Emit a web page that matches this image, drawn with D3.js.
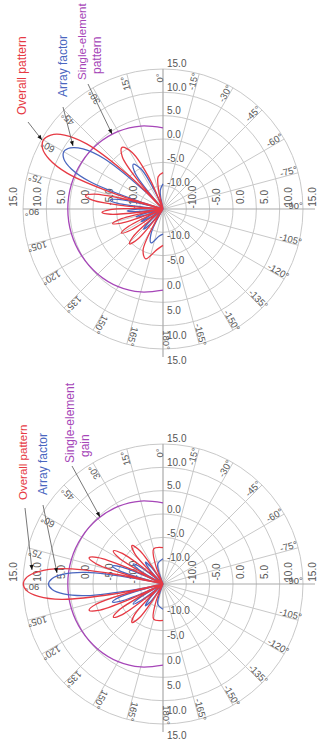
<!DOCTYPE html>
<html><head><meta charset="utf-8">
<script src="https://cdn.jsdelivr.net/npm/d3@7"></script>
<style>html,body{margin:0;padding:0;background:#fff;} svg{display:block;}</style>
</head><body>
<svg id="chart" width="321" height="749"></svg>
<script>
// ---------- data ----------
const ringValues = [-10, -5, 0, 5, 10, 15];
const radialDomain = [-15, 15];
const angleTicks = [0,15,30,45,60,75,90,105,120,135,150,165,180,-15,-30,-45,-60,-75,-90,-105,-120,-135,-150,-165];

// [angle in degrees, gain in dB]  (angle counter-clockwise from the top on screen)
const topOverall = [[0,-7.2],[8.5,-8.0],[13.8,-11.6],[19.2,-40],
 [23.5,-8.3],[28.6,-1.2],[33.6,0.85],[37.9,-0.8],[41.5,-7.55],[43.8,-40],
 [45.6,-5.0],[49.5,6.5],[53.1,11.4],[56.6,13.8],[60,14.6],[63.3,13.9],[66.4,11.6],[69.5,6.95],[72.5,-4.25],[73.9,-40],
 [75.5,-6.85],[77.8,0.05],[80.4,1.85],[83.0,0.05],[85.2,-6.8],[86.8,-40],
 [88.3,-10.6],[90.6,-3.7],[93.2,-1.9],[95.7,-3.7],[98.0,-10.6],[99.6,-40],
 [101.1,-12.4],[103.5,-5.5],[106.1,-3.75],[108.8,-5.6],[111.2,-12.55],[112.9,-40],
 [114.6,-13.2],[117.1,-6.4],[120,-4.7],[123,-6.55],[125.7,-13.55],[127.7,-40],
 [129.6,-13.1],[132.7,-6.3],[136.2,-4.65],[140.1,-6.6],[143.8,-13.7],[146.4,-40],
 [149.3,-11.8],[154.2,-5.2],[160.8,-3.7],[171.5,-6.2],[180,-7.2]];
const topArray = [[0,-9.6],[8.5,-11.0],[13.8,-14.9],[19.2,-40],
 [23.5,-12.2],[28.6,-5.3],[33.6,-3.5],[37.9,-5.3],[41.5,-12.2],[43.8,-40],
 [45.6,-9.6],[49.5,1.65],[53.1,6.43],[56.6,8.77],[60,9.54],[63.3,8.77],[66.4,6.43],[69.5,1.65],[72.5,-9.6],[73.9,-40],
 [75.5,-12.2],[77.8,-5.3],[80.4,-3.5],[83.0,-5.3],[85.2,-12.2],[86.8,-40],
 [88.3,-16.0],[90.6,-9.1],[93.2,-7.3],[95.7,-9.1],[98.0,-16.0],[99.6,-40],
 [101.1,-17.7],[103.5,-10.8],[106.1,-9.0],[108.8,-10.8],[111.2,-17.7],[112.9,-40],
 [114.6,-18.3],[117.1,-11.4],[120,-9.6],[123,-11.4],[125.7,-18.3],[127.7,-40],
 [129.6,-17.7],[132.7,-10.8],[136.2,-9.0],[140.1,-10.8],[143.8,-17.7],[146.4,-40],
 [149.3,-16.0],[154.2,-9.1],[160.8,-7.3],[171.5,-9.1],[180,-9.6]];
const topElement = [[0,2.4],[15,3.4],[30,4.2],[45,4.75],[60,5.1],[75,5.33],[90,5.4],[105,5.33],[120,5.1],[135,4.75],[150,4.2],[165,3.4],[180,2.4]];

const bottomOverall = [[0,-7.2],[14.8,-7.2],[21.1,-10.4],[24.4,-15.9],[27.3,-40],
 [30.5,-13.5],[34.7,-6.4],[38.9,-4.4],[42.9,-6.1],[46.1,-12.9],[48.2,-40],
 [50.2,-11.1],[53.1,-4.1],[56.2,-2.2],[59.3,-4.0],[61.9,-10.8],[63.6,-40],
 [65.4,-7.0],[67.8,0.0],[70.5,1.8],[73.2,0.0],[75.6,-6.9],[77.2,-40],
 [78.5,-4.25],[81.4,7.0],[84.3,11.8],[87.1,14.2],[90,14.94],[92.9,14.2],[95.7,11.8],[98.6,7.0],[101.5,-4.25],[102.8,-40],
 [104.4,-6.9],[106.8,0.0],[109.5,1.8],[112.2,0.0],[114.6,-7.0],[116.4,-40],
 [118.1,-10.8],[120.7,-4.0],[123.8,-2.2],[126.9,-4.1],[129.8,-11.1],[131.8,-40],
 [133.9,-12.9],[137.1,-6.1],[141.1,-4.4],[145.3,-6.4],[149.5,-13.5],[152.7,-40],
 [155.6,-15.9],[158.9,-10.4],[165.2,-7.2],[180,-7.2]];
const bottomArray = [[0,-9.6],[14.8,-10.6],[21.1,-14.2],[24.4,-19.8],[27.3,-40],
 [30.5,-17.7],[34.7,-10.8],[38.9,-9.0],[42.9,-10.8],[46.1,-17.7],[48.2,-40],
 [50.2,-16.0],[53.1,-9.1],[56.2,-7.3],[59.3,-9.1],[61.9,-16.0],[63.6,-40],
 [65.4,-12.2],[67.8,-5.3],[70.5,-3.5],[73.2,-5.3],[75.6,-12.2],[77.2,-40],
 [78.5,-9.6],[81.4,1.65],[84.3,6.43],[87.1,8.77],[90,9.54],[92.9,8.77],[95.7,6.43],[98.6,1.65],[101.5,-9.6],[102.8,-40],
 [104.4,-12.2],[106.8,-5.3],[109.5,-3.5],[112.2,-5.3],[114.6,-12.2],[116.4,-40],
 [118.1,-16.0],[120.7,-9.1],[123.8,-7.3],[126.9,-9.1],[129.8,-16.0],[131.8,-40],
 [133.9,-17.7],[137.1,-10.8],[141.1,-9.0],[145.3,-10.8],[149.5,-17.7],[152.7,-40],
 [155.6,-19.8],[158.9,-14.2],[165.2,-10.6],[180,-9.6]];
const bottomElement = [[0,2.4],[15,3.4],[30,4.2],[45,4.75],[60,5.1],[75,5.33],[90,5.4],[105,5.33],[120,5.1],[135,4.75],[150,4.2],[165,3.4],[180,2.4]];

const topLegend = [["Overall pattern"], ["Array factor"], ["Single-element", "pattern"]];
const bottomLegend = [["Overall pattern"], ["Array factor"], ["Single-element", "gain"]];

// ---------- drawing ----------
const svg = d3.select("#chart");
const R = 140;
const colors = {overall: "#e63a44", array: "#4a66bf", element: "#a646b8"};
const fmt = d3.formatLocale({decimal: ".", thousands: ",", grouping: [3], currency: ["", ""], minus: "-"}).format(".1f");
const font = "'Liberation Sans', Arial, sans-serif";

function drawChart(cx, cy, overall, array, element, legend, layout) {
  const g = svg.append("g").attr("transform", `translate(${cx},${cy})`);
  const r = d3.scaleLinear().domain(radialDomain).range([0, R]).clamp(true);
  const rad = d => d * Math.PI / 180;

  // rings
  g.selectAll("circle.ring").data(ringValues).join("circle")
    .attr("r", d => r(d)).attr("fill", "none").attr("stroke", "#c9c9c9").attr("stroke-width", 1);
  // spokes
  g.selectAll("line.spoke").data(angleTicks.filter(a => a % 90 !== 0)).join("line")
    .attr("x1", 0).attr("y1", 0)
    .attr("x2", a => -R * Math.sin(rad(a))).attr("y2", a => -R * Math.cos(rad(a)))
    .attr("stroke", "#c9c9c9").attr("stroke-width", 1);
  // axes
  g.append("line").attr("x1", -R).attr("x2", R + 12).attr("y1", 0).attr("y2", 0).attr("stroke", "#aaa").attr("stroke-width", 1.2);
  g.append("line").attr("x1", 0).attr("x2", 0).attr("y1", -R).attr("y2", R + 8).attr("stroke", "#aaa").attr("stroke-width", 1.2);

  // ring labels on vertical axis (horizontal text)
  const lab = g.append("g").attr("font-family", font).attr("font-size", 10).attr("fill", "#555");
  ringValues.forEach(v => {
    const rr = r(v);
    lab.append("text").attr("x", 4).attr("y", -(rr + 3 + rr * 0.02)).attr("dominant-baseline", "central").text(fmt(v));
    lab.append("text").attr("x", 4).attr("y", rr + 1 + rr * 0.075).attr("dominant-baseline", "central").text(fmt(v));
    const off = rr + 5 + rr * 0.035;
    [off, -off].forEach(x => lab.append("text")
      .attr("transform", `translate(${x},-12) rotate(-90)`)
      .attr("text-anchor", "middle").attr("dominant-baseline", "central").text(fmt(v)));
  });
  // angle labels
  g.append("g").attr("font-family", font).attr("font-size", 9.5).attr("fill", "#555")
    .selectAll("text").data(angleTicks).join("text")
    .attr("transform", a => `translate(${-131 * Math.sin(rad(a))},${-131 * Math.cos(rad(a))}) rotate(${-90 - a})`)
    .attr("text-anchor", "middle").attr("dy", "-0.05em")
    .text(a => a + "°");

  const line = d3.lineRadial().angle(d => -rad(d[0])).radius(d => r(d[1])).curve(d3.curveCatmullRom.alpha(0.5));
  g.append("path").datum(element).attr("d", line).attr("fill", "none").attr("stroke", colors.element).attr("stroke-width", 1.3);
  g.append("path").datum(array).attr("d", line).attr("fill", "none").attr("stroke", colors.array).attr("stroke-width", 1.3);
  g.append("path").datum(overall).attr("d", line).attr("fill", "none").attr("stroke", colors.overall).attr("stroke-width", 1.3);

  // legend texts
  const lg = svg.append("g").attr("font-family", font);
  const cols = [colors.overall, colors.array, colors.element];
  layout.texts.forEach((t, i) => {
    legend[i].forEach((s, j) => {
      const p = t[j];
      lg.append("text").attr("transform", `translate(${p[0]},${p[1]}) rotate(-90)`)
        .attr("font-size", p[2])
        .attr("dominant-baseline", "central").attr("fill", cols[i]).text(s);
    });
  });
  // pointers
  layout.pointers.forEach(p => {
    svg.append("line").attr("x1", p[0]).attr("y1", p[1]).attr("x2", p[2]).attr("y2", p[3])
      .attr("stroke", "#555").attr("stroke-width", 0.8);
    const ang = Math.atan2(p[3] - p[1], p[2] - p[0]) * 180 / Math.PI;
    svg.append("path").attr("d", "M0,0 L-5,-2 L-5,2 Z").attr("fill", "#111")
      .attr("transform", `translate(${p[2]},${p[3]}) rotate(${ang})`);
  });
}

drawChart(163, 209, topOverall, topArray, topElement, topLegend, {
  texts: [[[22, 115, 12]], [[63, 97, 12]], [[82, 80, 11.5], [97, 74, 12]]],
  pointers: [[28, 122, 42, 140], [63, 107, 73, 146], [88, 84, 112, 134]]
});
drawChart(163, 584, bottomOverall, bottomArray, bottomElement, bottomLegend, {
  texts: [[[23, 500, 11.5]], [[43, 495, 12]], [[70, 463, 12], [85, 457, 12]]],
  pointers: [[25, 508, 32, 570], [43, 505, 57, 573], [72, 466, 100, 517]]
});
</script>
</body></html>
